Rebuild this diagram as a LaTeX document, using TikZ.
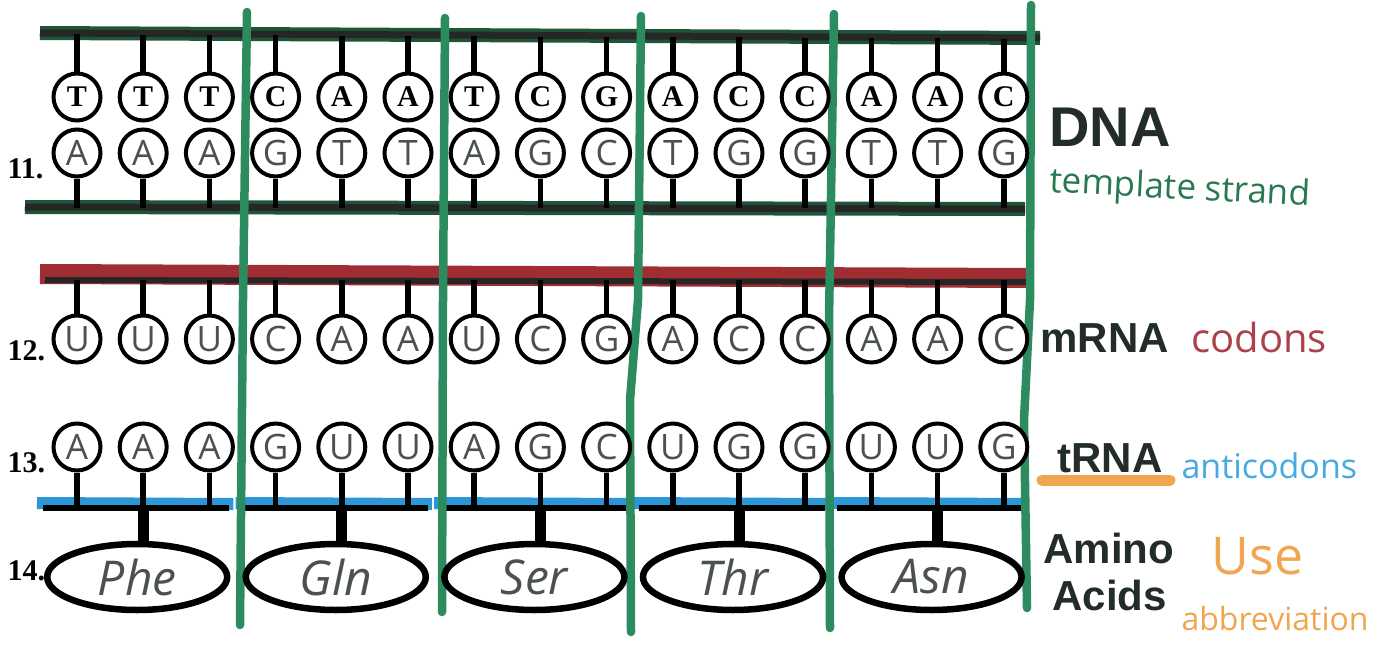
\documentclass[tikz,border=0pt]{standalone}
\usepackage{fontspec}
\setmainfont{Liberation Serif}
\newfontfamily\labfont{Liberation Sans}
\newfontfamily\handfont{Open Sans}
\usetikzlibrary{shapes.geometric}
\definecolor{dnagreen}{RGB}{30,85,55}
\definecolor{sepgreen}{RGB}{45,140,95}
\definecolor{mred}{RGB}{160,45,50}
\definecolor{tblue}{RGB}{45,150,215}
\definecolor{handgray}{RGB}{75,80,80}
\definecolor{labcol}{RGB}{35,45,40}
\definecolor{tgreen}{RGB}{40,120,80}
\definecolor{codred}{RGB}{170,65,75}
\definecolor{antiblue}{RGB}{70,170,225}
\definecolor{orng}{RGB}{240,165,80}
\begin{document}
\begin{tikzpicture}[x=1pt,y=-1pt,
  basecirc/.style={circle, draw=black, line width=4pt, minimum size=47pt, inner sep=0pt, fill=white},
  printed/.style={basecirc, font=\bfseries\fontsize{30}{30}\selectfont},
  hand/.style={basecirc, font=\handfont\fontsize{35}{35}\selectfont, text=handgray},
  stem/.style={line width=5.5pt, black},
  bigstem/.style={line width=11pt, black},
  aa/.style={ellipse, draw=black, line width=6.5pt, minimum width=180pt, minimum height=66pt, inner sep=0pt, fill=white, font=\handfont\itshape\fontsize{48}{48}\selectfont, text=handgray},
  sep/.style={line width=8.5pt, sepgreen, line cap=round, line join=round},
  rownum/.style={anchor=base west, font=\bfseries\fontsize{30}{30}\selectfont},
  biglab/.style={anchor=base west, font=\labfont\bfseries\fontsize{42}{42}\selectfont, text=labcol},
  note/.style={anchor=base west, font=\handfont}
]
\useasboundingbox (0,0) rectangle (1374,645);

% backbones
\coordinate (dtl) at (40,33); \coordinate (dtr) at (1040,38);
\coordinate (dbl) at (25,207); \coordinate (dbr) at (1025,209);
\coordinate (mbl) at (40,274); \coordinate (mbr) at (1030,278);
\draw[line width=14pt, dnagreen] (dtl) -- (dtr);
\draw[line width=7pt, black!85] (dtl) -- (dtr);
\draw[line width=14pt, dnagreen] (dbl) -- (dbr);
\draw[line width=7pt, black!85] (dbl) -- (dbr);
\draw[line width=20pt, mred] (mbl) -- (mbr);
\draw[line width=6pt, black!85] (45,280) coordinate (mbl2) -- (1030,282) coordinate (mbr2);

% tRNA bars
\foreach \j in {0,...,4}{
  \pgfmathsetmacro\xs{77+66.2*3*\j-34}
  \pgfmathsetmacro\xe{77+66.2*(3*\j+2)+20}
  \draw[line width=12pt, tblue] (\xs-6,503) coordinate (bl\j) -- (\xe+4,504) coordinate (br\j);
  \draw[line width=5.5pt, black] (\xs,508) coordinate (kl\j) -- (\xe,508) coordinate (kr\j);
}

% separators
\draw[sep] (247,12) coordinate (s1a) -- (243,300) -- (240,625) coordinate (s1b);
\draw[sep] (445,18) coordinate (s2a) -- (443,300) -- (442,612) coordinate (s2b);
\draw[sep] (641,16) coordinate (s3a) -- (638,300) -- (630,400) -- (631,632) coordinate (s3b);
\draw[sep] (834,14) coordinate (s4a) -- (829,320) -- (830,628) coordinate (s4b);
\draw[sep] (1031,5) coordinate (s5a) -- (1030,300) -- (1024,420) -- (1027,608) coordinate (s5b);

% bases
\foreach \i/\a/\b/\c/\d in {0/T/A/U/A,1/T/A/U/A,2/T/A/U/A,3/C/G/C/G,4/A/T/A/U,5/A/T/A/U,6/T/A/U/A,7/C/G/C/G,8/G/C/G/C,9/A/T/A/U,10/C/G/C/G,11/C/G/C/G,12/A/T/A/U,13/A/T/A/U,14/C/G/C/G}{
  \pgfmathsetmacro\xx{77+66.2*\i}
  \pgfmathsetmacro\yt{34+5*(\xx-40)/1000}
  \coordinate (tb\i) at (\xx,\yt);
  \coordinate (bb\i) at (\xx,208);
  \coordinate (mb\i) at (\xx,280);
  \coordinate (rb\i) at (\xx,508);
  \node[printed] (d\i) at (\xx,97) {\a};
  \node[hand] (s\i) at (\xx,153) {\b};
  \node[hand] (m\i) at (\xx,339) {\c};
  \node[hand] (r\i) at (\xx,447) {\d};
  \draw[stem] (d\i) -- (tb\i);
  \draw[stem] (s\i) -- (bb\i);
  \draw[stem] (m\i) -- (mb\i);
  \draw[stem] (r\i) -- (rb\i);
}

% amino acids
\foreach \j/\n in {0/Phe,1/Gln,2/Ser,3/Thr,4/Asn}{
  \pgfmathtruncatemacro\mid{3*\j+1}
  \pgfmathsetmacro\xm{77+66.2*\mid-6}
  \node[aa] (aa\j) at (\xm,577) {\n};
  \draw[bigstem] (rb\mid) -- (rb\mid |- aa\j.north);
}

% row numbers
\node[rownum] (n11) at (4,178) {11.};
\node[rownum] (n12) at (4,360) {12.};
\node[rownum] (n13) at (4,472) {13.};
\node[rownum] (n14) at (4,580) {14.};

% right labels
\node[anchor=base west, font=\labfont\bfseries\fontsize{56}{56}\selectfont, text=labcol] (dnalab) at (1046,146) {DNA};
\node[note, font=\handfont\fontsize{35}{35}\selectfont, text=tgreen, rotate=-3] (tmpl) at (1046,192) {template strand};
\node[biglab] (mrnalab) at (1037,352) {mRNA};
\node[note, font=\handfont\fontsize{40}{40}\selectfont, text=codred] (codlab) at (1188,352) {codons};
\coordinate (ul1) at (1042,480); \coordinate (ul2) at (1170,480);
\draw[line width=11pt, orng, line cap=round] (ul1) -- (ul2);
\node[biglab] (trnalab) at (1054,472) {tRNA};
\node[note, font=\handfont\fontsize{34}{34}\selectfont, text=antiblue] (antilab) at (1178,478) {anticodons};
\node[biglab] (aminolab) at (1040,563) {Amino};
\node[biglab] (acidslab) at (1049,610) {Acids};
\node[note, font=\handfont\fontsize{52}{52}\selectfont, text=orng] (uselab) at (1208,574) {Use};
\node[note, font=\handfont\fontsize{32}{32}\selectfont, text=orng] (abbrlab) at (1178,630) {abbreviation};
\end{tikzpicture}
\end{document}
